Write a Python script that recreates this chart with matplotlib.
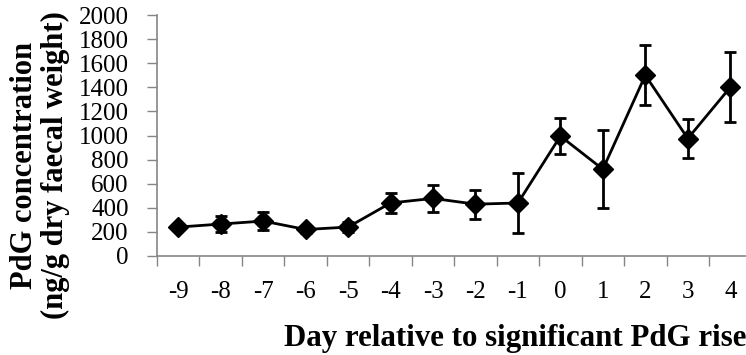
import matplotlib
matplotlib.use("Agg")
import matplotlib.pyplot as plt
import numpy as np

days = ["-9", "-8", "-7", "-6", "-5", "-4", "-3", "-2", "-1", "0", "1", "2", "3", "4"]
pdg = [240, 265, 290, 220, 240, 440, 478, 430, 440, 995, 720, 1500, 975, 1400]
sem = [25, 65, 72, 25, 40, 85, 112, 120, 250, 150, 325, 250, 160, 292]
yticks = [0, 200, 400, 600, 800, 1000, 1200, 1400, 1600, 1800, 2000]

plt.rcParams['font.family'] = ['Liberation Serif', 'DejaVu Serif']

W, H = 746, 355
fig = plt.figure(figsize=(W / 100, H / 100), dpi=100)
ax = fig.add_axes([157 / W, 1 - 256 / H, (751.5 - 157) / W, (256 - 15) / H])

x = np.arange(len(days))
ax.errorbar(x, pdg, yerr=sem, color='black', marker='D', markersize=10,
            linewidth=2, elinewidth=2, capsize=4.5, capthick=2)

ax.set_xlim(-0.5, len(days) - 0.5)
ax.set_ylim(0, 2000)
ax.set_yticks(yticks)
ax.set_yticklabels([str(v) for v in yticks], fontsize=18)
ax.set_xticks(x)
ax.set_xticklabels(days, fontsize=18)
ax.set_xticks(np.arange(len(days)) - 0.5, minor=True)
ax.tick_params(axis='x', which='major', length=0, pad=18)
ax.tick_params(axis='x', which='minor', length=7, width=1, color='#868686', direction='out')
ax.tick_params(axis='y', which='major', length=7, width=1, color='#868686', direction='out', pad=13.5)

for s in ['top', 'right']:
    ax.spines[s].set_visible(False)
for s in ['left', 'bottom']:
    ax.spines[s].set_color('#868686')
    ax.spines[s].set_linewidth(1.2)

fig.text(284 / W, 1 - 346 / H, "Day relative to significant PdG rise",
         ha='left', va='baseline', fontsize=22.2, fontweight='bold')
fig.text(40 / W, 1 - 165.5 / H, "PdG concentration\n(ng/g dry faecal weight)",
         ha='center', va='center', rotation=90, fontsize=22, fontweight='bold',
         multialignment='center', linespacing=1.12)

fig.savefig("out.png", dpi=100)
